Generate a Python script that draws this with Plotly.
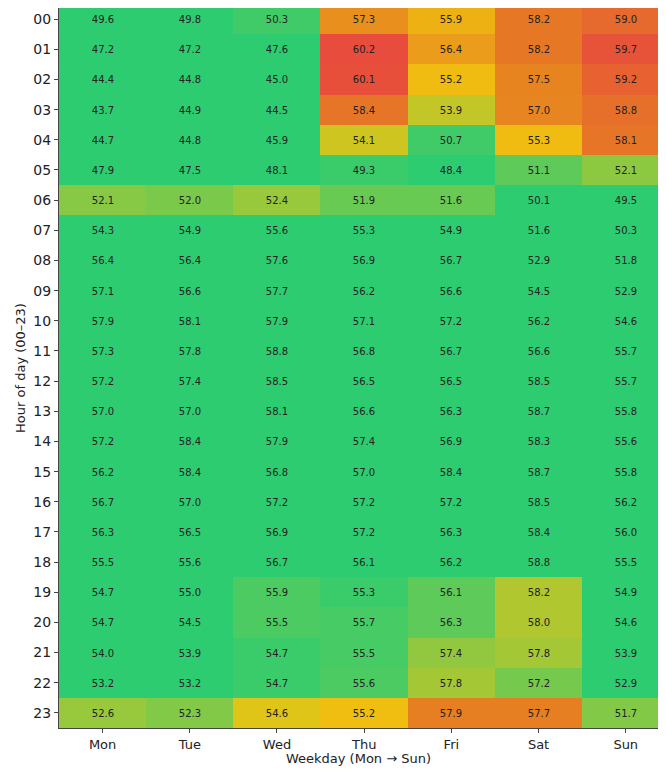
import plotly.graph_objects as go

DAYS = ["Mon", "Tue", "Wed", "Thu", "Fri", "Sat", "Sun"]
HOURS = [f"{h:02d}" for h in range(24)]

# value shown in each cell (rows = hours 00..23, cols = Mon..Sun)
VALUES = [
    [49.6, 49.8, 50.3, 57.3, 55.9, 58.2, 59.0],
    [47.2, 47.2, 47.6, 60.2, 56.4, 58.2, 59.7],
    [44.4, 44.8, 45.0, 60.1, 55.2, 57.5, 59.2],
    [43.7, 44.9, 44.5, 58.4, 53.9, 57.0, 58.8],
    [44.7, 44.8, 45.9, 54.1, 50.7, 55.3, 58.1],
    [47.9, 47.5, 48.1, 49.3, 48.4, 51.1, 52.1],
    [52.1, 52.0, 52.4, 51.9, 51.6, 50.1, 49.5],
    [54.3, 54.9, 55.6, 55.3, 54.9, 51.6, 50.3],
    [56.4, 56.4, 57.6, 56.9, 56.7, 52.9, 51.8],
    [57.1, 56.6, 57.7, 56.2, 56.6, 54.5, 52.9],
    [57.9, 58.1, 57.9, 57.1, 57.2, 56.2, 54.6],
    [57.3, 57.8, 58.8, 56.8, 56.7, 56.6, 55.7],
    [57.2, 57.4, 58.5, 56.5, 56.5, 58.5, 55.7],
    [57.0, 57.0, 58.1, 56.6, 56.3, 58.7, 55.8],
    [57.2, 58.4, 57.9, 57.4, 56.9, 58.3, 55.6],
    [56.2, 58.4, 56.8, 57.0, 58.4, 58.7, 55.8],
    [56.7, 57.0, 57.2, 57.2, 57.2, 58.5, 56.2],
    [56.3, 56.5, 56.9, 57.2, 56.3, 58.4, 56.0],
    [55.5, 55.6, 56.7, 56.1, 56.2, 58.8, 55.5],
    [54.7, 55.0, 55.9, 55.3, 56.1, 58.2, 54.9],
    [54.7, 54.5, 55.5, 55.7, 56.3, 58.0, 54.6],
    [54.0, 53.9, 54.7, 55.5, 57.4, 57.8, 53.9],
    [53.2, 53.2, 54.7, 55.6, 57.8, 57.2, 52.9],
    [52.6, 52.3, 54.6, 55.2, 57.9, 57.7, 51.7],
]

# colour level of each cell (0 = ok/green .. 1 = worst/red)
LEVELS = [
    [0.00, 0.00, 0.03, 0.58, 0.42, 0.70, 0.80],
    [0.00, 0.00, 0.00, 1.00, 0.52, 0.70, 0.95],
    [0.00, 0.00, 0.00, 0.98, 0.37, 0.63, 0.86],
    [0.00, 0.00, 0.00, 0.72, 0.25, 0.62, 0.76],
    [0.00, 0.00, 0.00, 0.27, 0.03, 0.37, 0.72],
    [0.00, 0.00, 0.00, 0.02, 0.00, 0.08, 0.16],
    [0.15, 0.13, 0.18, 0.10, 0.10, 0.00, 0.00],
    [0.00, 0.00, 0.00, 0.00, 0.00, 0.00, 0.00],
    [0.00, 0.00, 0.00, 0.00, 0.00, 0.00, 0.00],
    [0.00, 0.00, 0.00, 0.00, 0.00, 0.00, 0.00],
    [0.00, 0.00, 0.00, 0.00, 0.00, 0.00, 0.00],
    [0.00, 0.00, 0.00, 0.00, 0.00, 0.00, 0.00],
    [0.00, 0.00, 0.00, 0.00, 0.00, 0.00, 0.00],
    [0.00, 0.00, 0.00, 0.00, 0.00, 0.00, 0.00],
    [0.00, 0.00, 0.00, 0.00, 0.00, 0.00, 0.00],
    [0.00, 0.00, 0.00, 0.00, 0.00, 0.00, 0.00],
    [0.00, 0.00, 0.00, 0.00, 0.00, 0.00, 0.00],
    [0.00, 0.00, 0.00, 0.00, 0.00, 0.00, 0.00],
    [0.00, 0.00, 0.00, 0.00, 0.00, 0.00, 0.00],
    [0.00, 0.00, 0.05, 0.02, 0.08, 0.22, 0.00],
    [0.00, 0.00, 0.05, 0.04, 0.08, 0.22, 0.00],
    [0.00, 0.00, 0.02, 0.04, 0.17, 0.20, 0.00],
    [0.00, 0.00, 0.02, 0.05, 0.20, 0.12, 0.00],
    [0.18, 0.14, 0.30, 0.36, 0.66, 0.66, 0.14],
]

COLORSCALE = [
    [0.00, "#2ecc71"],
    [0.33, "#f1c40f"],
    [0.66, "#e67e22"],
    [1.00, "#e74c3c"],
]

fig = go.Figure(go.Heatmap(
    z=LEVELS,
    x=DAYS,
    y=HOURS,
    text=[[f"{v:.1f}" for v in row] for row in VALUES],
    texttemplate="%{text}",
    textfont=dict(size=10, color="#222222", family="DejaVu Sans"),
    colorscale=COLORSCALE,
    zmin=0, zmax=1,
    showscale=False,
    xgap=0, ygap=0,
))

# page body has an 8px margin, so the figure is sized to fit the window without scrollbars
fig.update_layout(
    width=650, height=758,
    margin=dict(l=51, r=0, t=0, b=38),
    paper_bgcolor="white",
    plot_bgcolor="white",
    font=dict(family="DejaVu Sans", color="#222222", size=13),
    xaxis=dict(
        title=dict(text="Weekday (Mon → Sun)", font=dict(size=13), standoff=5),
        range=[-0.5, 6.37],
        automargin=False,
        showline=True, linecolor="#444444", linewidth=1.2,
        ticks="outside", ticklen=4, tickcolor="#444444",
        tickfont=dict(size=13),
        showgrid=False, zeroline=False,
    ),
    yaxis=dict(
        title=dict(text="Hour of day (00–23)", font=dict(size=13), standoff=4),
        range=[23.5, -0.37],
        automargin=False,
        showline=True, linecolor="#444444", linewidth=1.2,
        ticks="outside", ticklen=4, tickcolor="#444444",
        tickfont=dict(size=14),
        showgrid=False, zeroline=False,
    ),
)

fig.write_html("out.html")
